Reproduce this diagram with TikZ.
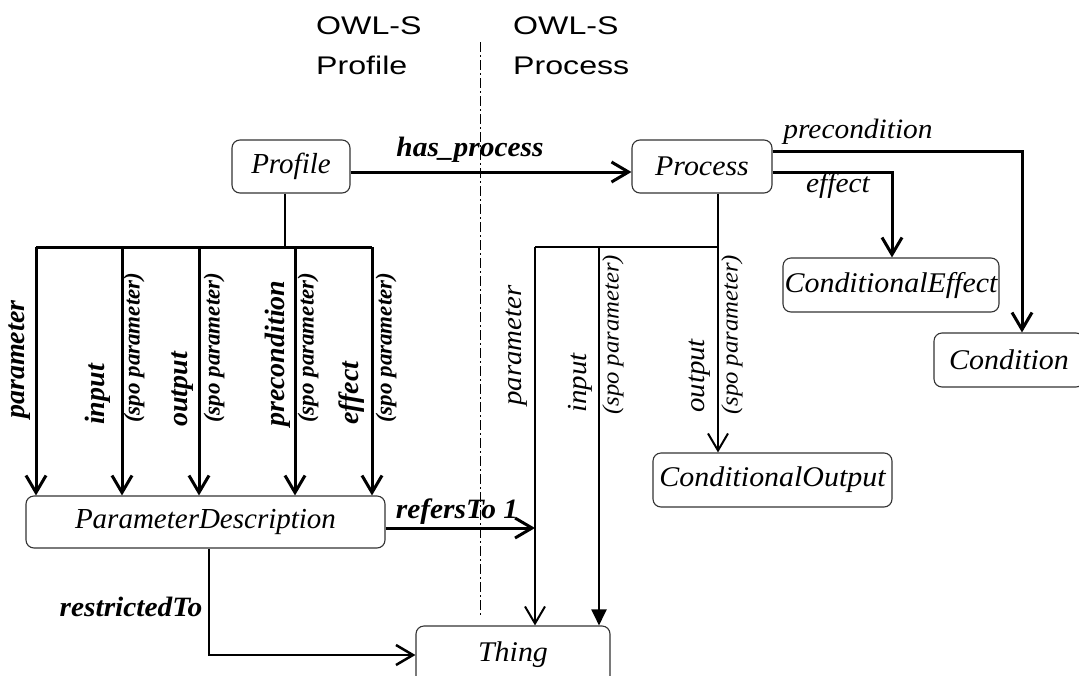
\documentclass[tikz,border=0pt]{standalone}
\usepackage{fontspec}
\setmainfont{Liberation Serif}
\newfontfamily\hdrfont[FakeStretch=1.26]{Liberation Sans}
\newfontfamily\wideserif[FakeStretch=1.05]{Liberation Serif}
\usetikzlibrary{arrows.meta}
\begin{document}
\begin{tikzpicture}[x=1pt,y=-1pt,
  box/.style={draw=black!80, line width=1.1pt, rounded corners=8pt, inner sep=0pt,
    font=\fontsize{29}{31}\selectfont\itshape},
  wbox/.style={box, font=\wideserif\fontsize{28.5}{31}\selectfont\itshape},
  barb/.style={-{Straight Barb[length=17pt,width=20pt]}},
  filltip/.style={-{Triangle[length=16pt,width=15pt]}},
  heavy/.style={line width=3pt},
  medium/.style={line width=2pt},
  hdr/.style={font=\hdrfont\fontsize{25.5}{30}\selectfont, inner sep=0pt, anchor=base west},
  blbl/.style={font=\wideserif\fontsize{28}{30}\selectfont\bfseries\itshape, inner sep=0pt},
  ilbl/.style={font=\wideserif\fontsize{28}{30}\selectfont\itshape, inner sep=0pt},
  vb/.style={font=\fontsize{28}{30}\selectfont\bfseries\itshape, inner sep=0pt, rotate=90, anchor=west},
  vbs/.style={font=\fontsize{23}{25}\selectfont\bfseries\itshape, inner sep=0pt, rotate=90, anchor=west},
  vi/.style={font=\wideserif\fontsize{27.5}{30}\selectfont\itshape, inner sep=0pt, rotate=90, anchor=west},
  vis/.style={font=\wideserif\fontsize{23.5}{26}\selectfont\itshape, inner sep=0pt, rotate=90, anchor=west},
  divider/.style={line width=0.9pt, dash pattern=on 10pt off 3pt on 2pt off 3pt}
]
\useasboundingbox (0,0) rectangle (1079,675);
\clip (0,0) rectangle (1079,675);

% headers
\node[hdr] (h1) at (316,34) {OWL-S};
\node[hdr] (h2) at (316,74) {Profile};
\node[hdr] (h3) at (513,34) {OWL-S};
\node[hdr] (h4) at (513,74) {Process};

% divider
\coordinate (dtop) at (480,42);
\coordinate (dbot) at (480,615);
\draw[divider] (dtop) -- (dbot);

% boxes
\node[box, minimum width=118pt, minimum height=53pt] (profile) at (291,166.5) {Profile};
\node[wbox, minimum width=140pt, minimum height=53pt] (process) at (702,166.5) {Process};
\node[box, minimum width=359pt, minimum height=52pt] (pd) at (205.5,522) {ParameterDescription};
\node[wbox, minimum width=216pt, minimum height=54pt] (ceff) at (891,285) {ConditionalEffect};
\node[wbox, minimum width=150pt, minimum height=54pt] (cond) at (1009,360) {Condition};
\node[wbox, minimum width=239pt, minimum height=54pt] (cout) at (772.5,480) {ConditionalOutput};
\node[wbox, minimum width=194pt, minimum height=58pt] (thing) at (513,655) {Thing};

% profile side bus
\coordinate (pj) at (285,247);
\coordinate (b1) at (36,247);
\coordinate (b2) at (122,247);
\coordinate (b3) at (199,247);
\coordinate (b4) at (295,247);
\coordinate (b5) at (372,247);
\draw[line width=2.5pt] (profile.south -| pj) -- (pj);
\draw[heavy] (b1) -- (b5);
\foreach \b in {b1,b2,b3,b4,b5}
  \draw[heavy,barb] (\b) -- (\b |- pd.north);

% has_process
\draw[heavy,barb] ([yshift=-5.5pt]profile.east) -- ([yshift=-5.5pt]process.west);
\node[blbl] (hpl) at (470,150) {has\_process};

% process side bus
\coordinate (pb) at (718,247);
\coordinate (pp) at (535,247);
\coordinate (pi) at (599,247);
\draw[medium] (process.south -| pb) -- (pb) -- (pp);
\draw[medium,barb] (pp) -- (pp |- thing.north);
\draw[medium,filltip] (pi) -- (pi |- thing.north);
\draw[medium,barb] (pb) -- (pb |- cout.north);

% precondition / effect
\draw[heavy,barb] ([yshift=15.5pt]process.east) -| ([xshift=13pt]cond.north);
\draw[heavy,barb] ([yshift=-5.5pt]process.east) -| ([xshift=1pt]ceff.north);
\node[ilbl] (prl) at (858,132) {precondition};
\node[ilbl] (efl) at (838,186) {effect};

% refersTo
\coordinate (rf) at ([yshift=-6pt]pd.east);
\draw[heavy,barb] (rf) -- (rf -| pp);
\node[blbl] (rfl) at (457,512) {refersTo 1};

% restrictedTo
\coordinate (rs) at (209,548);
\draw[line width=2.5pt,barb] (pd.south -| rs) |- (thing.west);
\node[blbl] (rsl) at (131,607) {restrictedTo};

% left vertical labels
\node[vb]  (l1) at (20,419) {parameter};
\node[vb]  (l2) at (98,425) {input};
\node[vbs] (l3) at (134,423) {(spo parameter)};
\node[vb]  (l4) at (183,427) {output};
\node[vbs] (l5) at (214,423) {(spo parameter)};
\node[vb]  (l6) at (278,427) {precondition};
\node[vbs] (l7) at (308,423) {(spo parameter)};
\node[vb]  (l8) at (352,425) {effect};
\node[vbs] (l9) at (386,423) {(spo parameter)};

% right vertical labels
\node[vi]  (r1) at (517,406) {parameter};
\node[vi]  (r2) at (580,413) {input};
\node[vis] (r3) at (613,415) {(spo parameter)};
\node[vi]  (r4) at (700,413) {output};
\node[vis] (r5) at (732,415) {(spo parameter)};
\end{tikzpicture}
\end{document}
